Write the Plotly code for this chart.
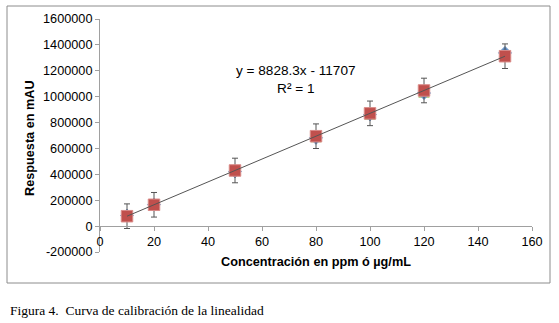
import plotly.graph_objects as go

conc = [10, 20, 50, 80, 100, 120, 150]
serie_rombo = [82000, 166000, 422000, 682000, 862000, 1028000, 1338000]
serie_triangulo = [88000, 160000, 415000, 668000, 842000, 1012000, 1318000]
serie_cuadrado = [76576, 164859, 429708, 694557, 871123, 1047689, 1312538]
error_barras = [95000] * 7
pendiente = 8828.3
intercepto = -11707
x_ticks = [0, 20, 40, 60, 80, 100, 120, 140, 160]
y_ticks = [-200000, 0, 200000, 400000, 600000, 800000, 1000000, 1200000, 1400000, 1600000]
y_tick_labels = ["-200000", "0", "200000", "400000", "600000", "800000",
                 "1000000", "1200000", "1400000", "1600000"]

W, H = 559, 323
L, R, T, B = 100, 27, 19, 71
pw, ph = W - L - R, H - T - B

def px(xp):
    return (xp - L) / pw

def py(yp):
    return (H - B - yp) / ph

fig = go.Figure()

fig.add_trace(go.Scatter(
    x=conc, y=serie_triangulo, mode="markers",
    marker=dict(symbol="triangle-up", size=9, color="#9BBB59",
                line=dict(color="#B5CE80", width=1)),
    showlegend=False))
fig.add_trace(go.Scatter(
    x=conc, y=serie_rombo, mode="markers",
    marker=dict(symbol="diamond", size=10, color="#4F81BD",
                line=dict(color="#7FA3D0", width=1)),
    showlegend=False))
fig.add_trace(go.Scatter(
    x=conc, y=serie_cuadrado, mode="markers",
    marker=dict(symbol="square", size=11.5, color="#C0504D",
                line=dict(color="#D98A87", width=1)),
    error_y=dict(type="data", array=error_barras, visible=True,
                 color="#555555", thickness=1, width=3),
    showlegend=False))

tx = [conc[0], conc[-1]]
fig.add_trace(go.Scatter(
    x=tx, y=[pendiente * v + intercepto for v in tx], mode="lines",
    line=dict(color="#555555", width=1), showlegend=False, hoverinfo="skip"))

axis_font = dict(family="Liberation Sans, Arial, sans-serif", size=12.7, color="#000000")

fig.update_layout(
    width=W, height=H,
    margin=dict(l=L, r=R, t=T, b=B, pad=0),
    paper_bgcolor="white", plot_bgcolor="white",
    font=axis_font,
    xaxis=dict(range=[0, 160], tickvals=x_ticks, showgrid=False, zeroline=False,
               showline=True, linecolor="#A0A0A0", linewidth=1,
               ticks="outside", ticklen=4, tickcolor="#A0A0A0",
               anchor="free", position=(0 - y_ticks[0]) / (y_ticks[-1] - y_ticks[0]),
               tickfont=axis_font, automargin=False,
               title=dict(text="<b>Concentración en ppm ó µg/mL</b>", font=axis_font, standoff=8)),
    yaxis=dict(range=[-200000, 1600000], tickvals=y_ticks, ticktext=y_tick_labels,
               showgrid=False, zeroline=False,
               showline=True, linecolor="#A0A0A0", linewidth=1,
               ticks="outside", ticklen=4, tickcolor="#A0A0A0",
               tickfont=axis_font, automargin=False),
)

fig.add_annotation(x=px(30), y=py(138), xref="paper", yref="paper",
                   text="<b>Respuesta en mAU</b>", textangle=-90, showarrow=False,
                   xanchor="center", yanchor="middle", font=axis_font)

fig.add_annotation(x=72.6, y=1135000, xref="x", yref="y",
                   text="y = 8828.3x - 11707<br>R² = 1", showarrow=False,
                   font=dict(family="Liberation Sans, Arial, sans-serif", size=13.6, color="#000000"),
                   align="center")

fig.add_shape(type="rect", xref="paper", yref="paper",
              x0=px(7), x1=px(550), y0=py(283), y1=py(6),
              line=dict(color="#8C8C8C", width=1), fillcolor="rgba(0,0,0,0)", layer="below")

fig.add_annotation(x=px(8), y=py(310), xref="paper", yref="paper",
                   xanchor="left", yanchor="middle",
                   text="Figura 4.  Curva de calibración de la linealidad", showarrow=False,
                   font=dict(family="Liberation Serif, Times New Roman, serif", size=13.5, color="#000000"))

fig.write_html("out.html", config={"displayModeBar": False},
               post_script="document.body.style.margin='0';document.body.style.overflow='hidden';")
